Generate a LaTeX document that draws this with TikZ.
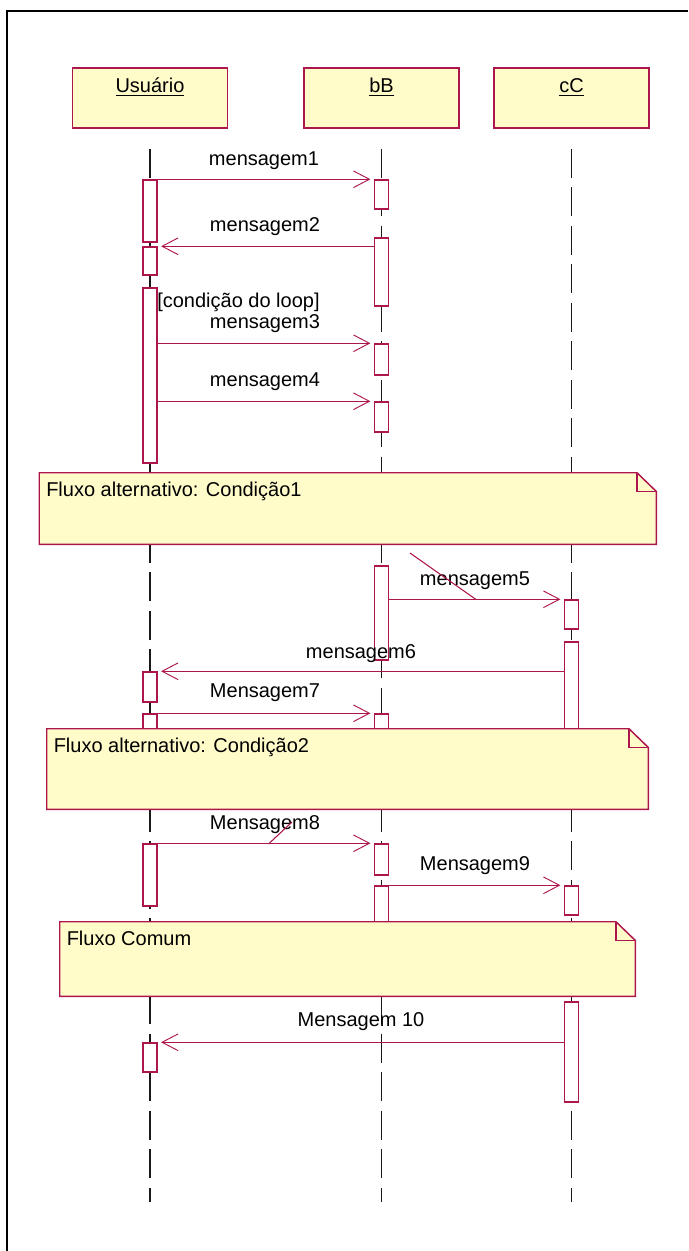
\documentclass[tikz,border=0pt]{standalone}
\usepackage{fontspec}
\setmainfont{Liberation Sans}
\usetikzlibrary{arrows.meta,fit}
\definecolor{umlred}{RGB}{172,22,76}
\definecolor{umlfill}{RGB}{255,252,202}
\definecolor{lifegray}{RGB}{25,25,25}
\begin{document}
\begin{tikzpicture}[x=0.75pt,y=-0.75pt,
  every node/.style={font=\fontsize{15pt}{18pt}\selectfont},
  headbox/.style={draw=umlred,fill=umlfill,line width=1.1pt,minimum width=116.25pt,minimum height=45pt,inner sep=0pt},
  headtxt/.style={anchor=base,inner sep=0pt},
  lifeline/.style={draw=lifegray,line width=0.8pt,dash pattern=on 21.75pt off 7.1pt},
  actbar/.style={draw=umlred,fill=white,line width=1.1pt,minimum width=10.5pt,inner sep=0pt},
  msg/.style={draw=umlred,line width=0.9pt,shorten >=2.5pt,-{Straight Barb[length=12pt,width=12.5pt,line width=0.7pt]}},
  lbl/.style={anchor=base,inner sep=0pt},
  notebox/.style={inner sep=0pt},
  notepath/.style={draw=umlred,fill=umlfill,line width=1.1pt},
  stray/.style={draw=umlred,line width=0.8pt}]
\useasboundingbox (0,0) rectangle (688,1251);
% frame
\draw[line width=1.6pt] (7,1251) -- (7,11) -- (688,11);

% headers
\node[headbox] (U) at (150,98) {};
\node[headbox] (B) at (381.5,98) {};
\node[headbox] (C) at (571.5,98) {};
\node[headtxt] (Ut) at (150,93) {\underline{Usuário}};
\node[headtxt] (Bt) at (381.5,93) {\underline{bB}};
\node[headtxt] (Ct) at (571.5,93) {\underline{cC}};

% lifelines
\coordinate (Us) at (150,149);   \coordinate (Ue) at (150,1202);
\coordinate (Bs) at (381.5,149); \coordinate (Be) at (381.5,1202);
\coordinate (Cs) at (571.5,149); \coordinate (Ce) at (571.5,1202);
\draw[lifeline] (Us) -- (Ue);
\draw[lifeline] (Bs) -- (Be);
\draw[lifeline] (Cs) -- (Ce);

% activation bars
\node[actbar,fit={(150,180) (150,242)}] (U1) {};
\node[actbar,fit={(150,247) (150,275)}] (U2) {};
\node[actbar,fit={(150,288) (150,463)}] (U3) {};
\node[actbar,fit={(150,672) (150,702)}] (U4) {};
\node[actbar,fit={(150,714) (150,740)}] (U5) {};
\node[actbar,fit={(150,844) (150,906)}] (U6) {};
\node[actbar,fit={(150,1043) (150,1072)}] (U7) {};
\node[actbar,fit={(381.5,180) (381.5,209)}] (B1) {};
\node[actbar,fit={(381.5,238) (381.5,306)}] (B2) {};
\node[actbar,fit={(381.5,344) (381.5,375)}] (B3) {};
\node[actbar,fit={(381.5,402) (381.5,432)}] (B4) {};
\node[actbar,fit={(381.5,566) (381.5,660)}] (B5) {};
\node[actbar,fit={(381.5,714) (381.5,740)}] (B6) {};
\node[actbar,fit={(381.5,844) (381.5,875)}] (B7) {};
\node[actbar,fit={(381.5,886) (381.5,930)}] (B8) {};
\node[actbar,fit={(571.5,600) (571.5,629)}] (C1) {};
\node[actbar,fit={(571.5,642) (571.5,740)}] (C2) {};
\node[actbar,fit={(571.5,886) (571.5,915)}] (C3) {};
\node[actbar,fit={(571.5,1002) (571.5,1102)}] (C4) {};

% messages
\draw[msg] (U1.north east) -- (B1.north west);
\draw[msg] (B2.west |- U2.north) -- (U2.north east);
\draw[msg] (U3.east |- B3.north) -- (B3.north west);
\draw[msg] (U3.east |- B4.north) -- (B4.north west);
\draw[msg] (B5.east |- C1.north) -- (C1.north west);
\draw[msg] (C2.west |- U4.north) -- (U4.north east);
\draw[msg] (U5.north east) -- (B6.north west);
\draw[msg] (U6.north east) -- (B7.north west);
\draw[msg] (B8.north east) -- (C3.north west);
\draw[msg] (C4.west |- U7.north) -- (U7.north east);

% labels
\node[lbl] (l1) at (264,166) {mensagem1};
\node[lbl] (l2) at (265,231.5) {mensagem2};
\node[lbl,anchor=base west] (lc) at (157,308) {[condição do loop]};
\node[lbl] (l3) at (265,329) {mensagem3};
\node[lbl] (l4) at (265,386.5) {mensagem4};
\node[lbl] (l5) at (475,585) {mensagem5};
\node[lbl] (l6) at (361,658) {mensagem6};
\node[lbl] (l7) at (265,697) {Mensagem7};
\node[lbl] (l8) at (265,829) {Mensagem8};
\node[lbl] (l9) at (475,870.5) {Mensagem9};
\node[lbl] (l10) at (361,1026.5) {Mensagem 10};

% stray strokes
\coordinate (s1a) at (410,553); \coordinate (s1b) at (476,599.5);
\draw[stray] (s1a) -- (s1b);
\coordinate (s2a) at (268.5,844); \coordinate (s2b) at (292,822);
\draw[stray] (s2a) -- (s2b);

% notes
\node[notebox,fit={(39.5,473) (656,544)}] (N1) {};
\node[notebox,fit={(47,729) (648,809)}] (N2) {};
\node[notebox,fit={(60,922) (635,996)}] (N3) {};
\foreach \n in {N1,N2,N3}{
  \draw[notepath] (\n.south west) -- (\n.north west) -- ([xshift=-14.5pt]\n.north east)
     -- ([yshift=-14pt]\n.north east) -- (\n.south east) -- cycle;
  \draw[umlred,line width=1.1pt] ([xshift=-14.5pt]\n.north east) |- ([yshift=-14pt]\n.north east);
}
\node[lbl,anchor=base west] (n1t) at (46,496.5) {Fluxo alternativo: Condição1};
\node[lbl,anchor=base west] (n2t) at (53.5,752) {Fluxo alternativo: Condição2};
\node[lbl,anchor=base west] (n3t) at (66.5,945) {Fluxo Comum};
\end{tikzpicture}
\end{document}
